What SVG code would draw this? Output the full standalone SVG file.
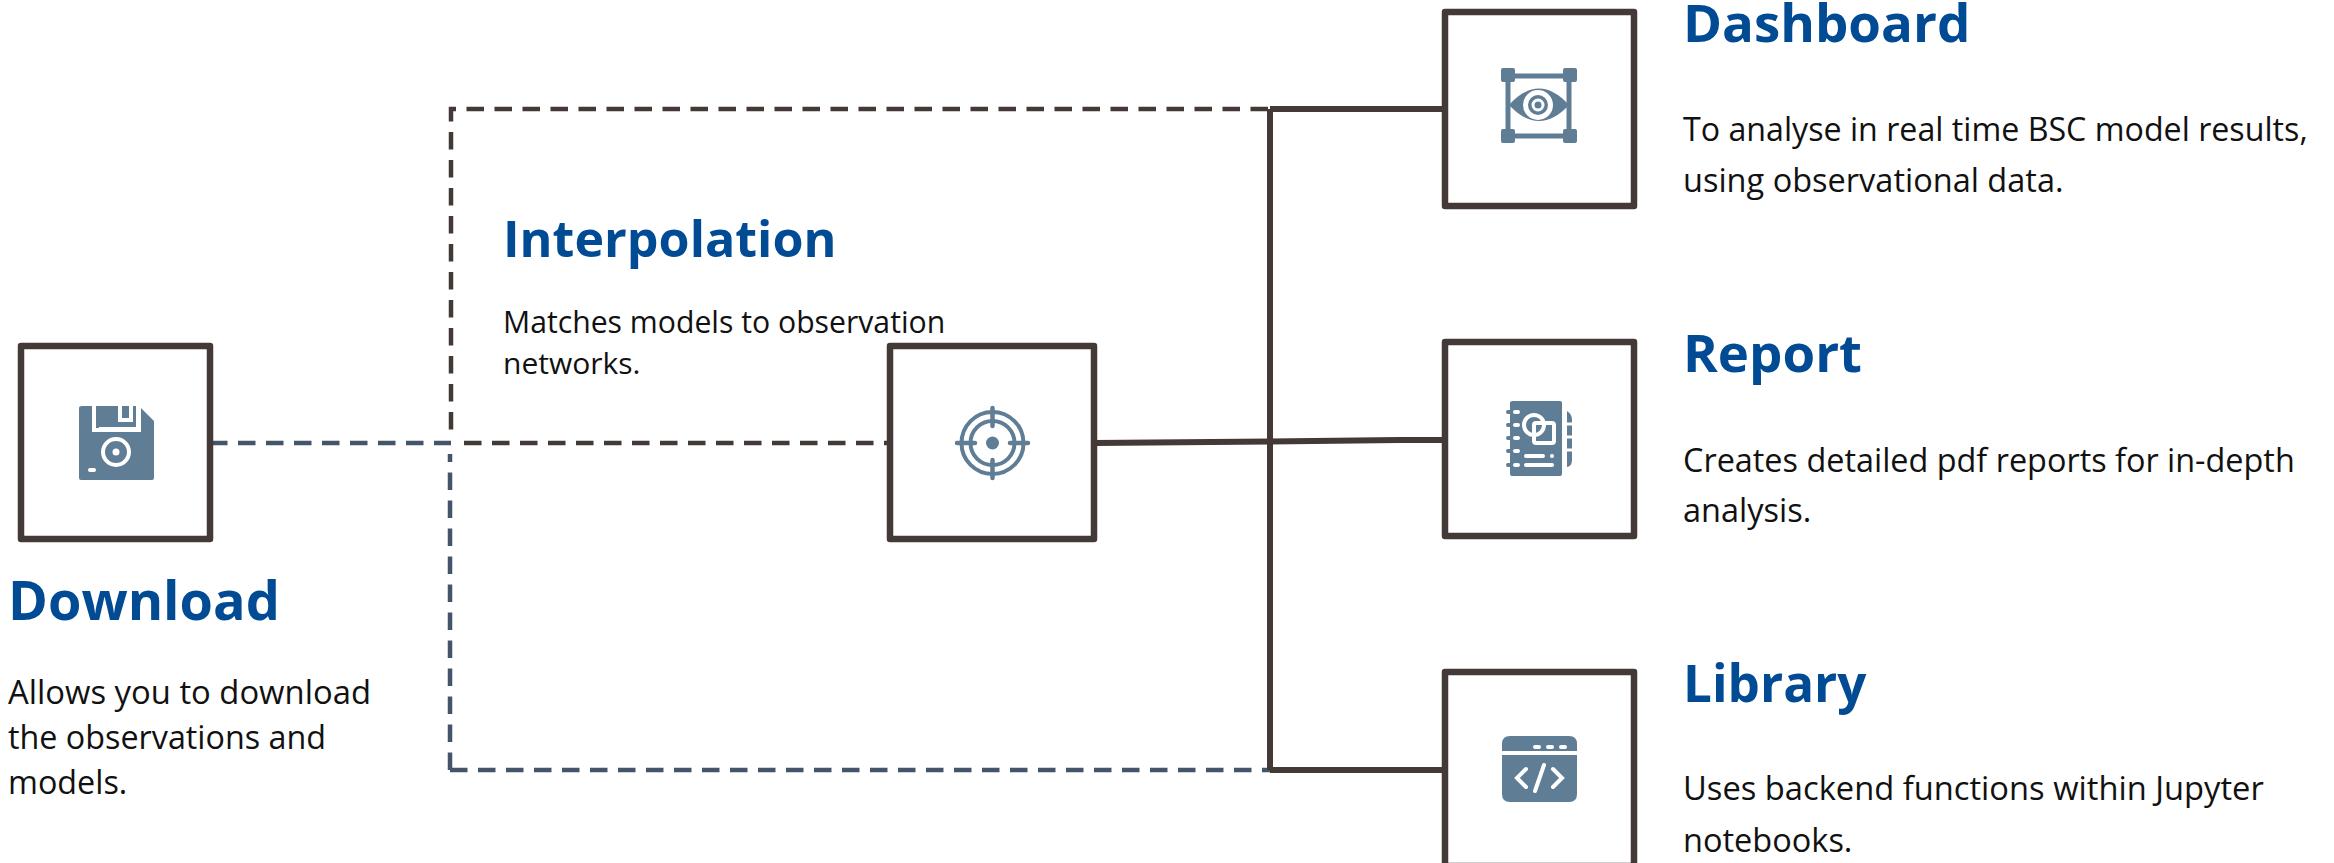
<svg xmlns="http://www.w3.org/2000/svg" width="2334" height="863" viewBox="0 0 2334 863">
<style>
.box{fill:#fff;stroke:#433937;stroke-width:6.500;stroke-linejoin:round}
.title{font-family:"Open Sans","Noto Sans",sans-serif;font-weight:700;font-size:52.800px;fill:#004b93}
.body{font-family:"Open Sans","Noto Sans",sans-serif;font-size:32.500px;fill:#111}
.ico{fill:#607d96}
.wl{fill:none;stroke:#fff;stroke-linecap:round}
.il{fill:none;stroke:#607d96;stroke-linecap:round}
.solid{fill:none;stroke:#433937;stroke-width:6}
.dk{fill:none;stroke:#433937;stroke-width:4.500;stroke-dasharray:17.500 10.500}
.bl{fill:none;stroke:#44546a;stroke-width:4.500;stroke-dasharray:17.500 10.500}
</style>
<rect width="2334" height="863" fill="#fff"/>
<g id="connectors">
<path class="dk" d="M1268 109H451V432"/>
<path class="bl" d="M450 770V454"/>
<path class="bl" d="M210 443H451"/>
<path class="dk" d="M464 443H890"/>
<path class="bl" d="M450 770H1270"/>
<path class="solid" d="M1270 109V770"/>
<path class="solid" d="M1270 109H1445"/>
<path class="solid" d="M1270 770H1445"/>
<path class="solid" stroke-width="6.500" d="M1094 443L1270 441.500L1400 440L1445 440"/>
</g>
<g id="download">
<rect class="box" x="21" y="346" width="189" height="193"/>
<path class="ico" d="M82 406H99V430H139V406L140 407L154 421V478Q154 480 152 480H81Q79 480 79 478V408Q79 406 82 406Z"/>
<path class="ico" d="M96 406H136V427H96Z"/>
<path d="M94 404V430H139V404" fill="none" stroke="#fff" stroke-width="4"/>
<path d="M120 404V420H131V404" fill="none" stroke="#fff" stroke-width="4"/>
<circle cx="116" cy="452" r="13" fill="none" stroke="#fff" stroke-width="4"/>
<circle cx="116" cy="452" r="3.500" fill="#fff"/>
<rect x="88" y="468" width="8" height="4" rx="2" fill="#fff"/>
<text class="title" x="8" y="620" style="font-size:54px">Download</text>
<text class="body" x="8" y="704" style="font-size:32.800px">Allows you to download</text>
<text class="body" x="8" y="749" style="font-size:32.300px">the observations and</text>
<text class="body" x="8" y="794" style="font-size:32.300px">models.</text>
</g>
<g id="interpolation">
<rect class="box" x="890" y="346" width="204" height="193"/>
<circle class="il" cx="992.500" cy="443" r="31" stroke-width="4"/>
<circle class="il" cx="992.500" cy="443" r="22" stroke-width="4"/>
<circle class="ico" cx="992.500" cy="443" r="6.500"/>
<path class="il" stroke-width="4.500" d="M992.500 408V426M992.500 460V478M957 443H975M1010 443H1028"/>
<text class="title" x="503" y="257" style="font-size:50.200px">Interpolation</text>
<text class="body" x="503" y="333" style="font-size:30.200px">Matches models to observation</text>
<text class="body" x="503" y="374" style="font-size:30px">networks.</text>
</g>
<g id="dashboard">
<rect class="box" x="1445" y="12" width="189" height="194"/>
<path class="il" stroke-width="5" d="M1508 76H1569M1508 136H1569M1508 76V136M1569 76V136" stroke-linecap="butt"/>
<rect class="ico" x="1501" y="68" width="14" height="14" rx="2"/>
<rect class="ico" x="1563" y="68" width="14" height="14" rx="2"/>
<rect class="ico" x="1501" y="129" width="14" height="14" rx="2"/>
<rect class="ico" x="1563" y="129" width="14" height="14" rx="2"/>
<path class="ico" d="M1509 105Q1539 72 1569 105Q1539 137 1509 105Z"/>
<circle cx="1538" cy="105" r="12.500" fill="none" stroke="#fff" stroke-width="5"/>
<circle cx="1538" cy="105" r="5" fill="none" stroke="#fff" stroke-width="3"/>
<text class="title" x="1683" y="42">Dashboard</text>
<text class="body" x="1683" y="141" style="font-size:32.200px">To analyse in real time BSC model results,</text>
<text class="body" x="1683" y="192">using observational data.</text>
</g>
<g id="report">
<rect class="box" x="1445" y="342" width="189" height="194"/>
<path class="ico" d="M1513 401H1560Q1562 401 1562 403V474Q1562 476 1560 476H1513Q1510 476 1510 474V403Q1510 401 1513 401Z"/>
<path class="ico" d="M1567 411Q1572 414 1572 420V460Q1572 466 1567 467Z"/>
<path d="M1565 424H1574M1565 437H1574M1565 450H1574" stroke="#fff" stroke-width="3"/>
<path class="il" stroke-width="4" d="M1508 412H1512M1508 425H1512M1508 438H1512M1508 451H1512M1508 465H1512"/>
<path class="wl" stroke-width="4" d="M1515 412H1518M1515 425H1518M1515 438H1518M1515 451H1518M1515 465H1518"/>
<circle cx="1534" cy="425" r="10" fill="none" stroke="#fff" stroke-width="4"/>
<rect x="1534" y="423" width="20" height="20" rx="2" fill="none" stroke="#fff" stroke-width="4"/>
<path class="wl" stroke-width="4" d="M1526 456H1543M1526 465H1552"/>
<circle cx="1552" cy="456" r="2" fill="#fff"/>
<text class="title" x="1683" y="372">Report</text>
<text class="body" x="1683" y="472" style="font-size:32.400px">Creates detailed pdf reports for in-depth</text>
<text class="body" x="1683" y="522">analysis.</text>
</g>
<g id="library">
<rect class="box" x="1445" y="672" width="189" height="194"/>
<path class="ico" d="M1510 736Q1502 736 1502 744V751H1577V744Q1577 736 1569 736Z"/>
<path class="ico" d="M1502 755H1577V794Q1577 802 1569 802H1510Q1502 802 1502 794Z"/>
<path class="wl" stroke-width="4" d="M1535 747H1539M1548 747H1552M1561 747H1565"/>
<path class="wl" stroke-width="4" d="M1526 769L1517 778L1526 787M1553 769L1562 778L1553 787M1544 765L1535 791"/>
<text class="title" x="1683" y="702" style="font-size:51.200px">Library</text>
<text class="body" x="1683" y="800" style="font-size:32.700px">Uses backend functions within Jupyter</text>
<text class="body" x="1683" y="852">notebooks.</text>
</g>
</svg>
